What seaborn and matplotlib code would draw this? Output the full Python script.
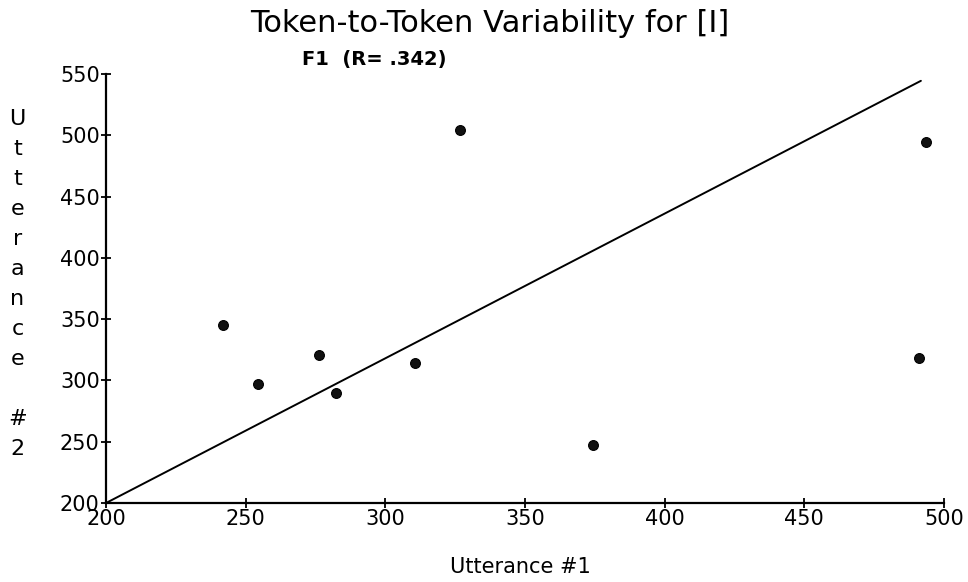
import matplotlib
matplotlib.use("Agg")
import matplotlib.pyplot as plt
import seaborn as sns
import pandas as pd

# values
utt1 = [241.8, 254.4, 276.3, 282.4, 310.8, 326.9, 374.3, 491.2, 493.5]
utt2 = [345.3, 296.9, 320.8, 290.0, 314.0, 504.5, 247.3, 318.6, 494.4]
line_x = [200, 491.8]
line_y = [200, 544.5]
x_ticks = [200, 250, 300, 350, 400, 450, 500]
y_ticks = [200, 250, 300, 350, 400, 450, 500, 550]

df = pd.DataFrame({'utt1': utt1, 'utt2': utt2})
line_df = pd.DataFrame({'x': line_x, 'y': line_y})

sns.set_style("ticks")
plt.rcParams['font.family'] = ['DejaVu Sans']

fig = plt.figure(figsize=(9.68, 5.82), dpi=100)
ax = fig.add_axes([0.1095, 0.1357, 0.8655, 0.7370])

sns.lineplot(x='x', y='y', data=line_df, color='black', linewidth=1.4, ax=ax)
sns.scatterplot(x='utt1', y='utt2', data=df, color='#111111', s=50,
                edgecolor='black', linewidth=0.8, ax=ax, zorder=3)

ax.set_xlim(200, 500)
ax.set_ylim(200, 550)
ax.set_xticks(x_ticks)
ax.set_yticks(y_ticks)
ax.tick_params(direction='inout', length=7, width=1.3, labelsize=15, pad=1, colors='black')
for side in ['top', 'right']:
    ax.spines[side].set_visible(False)
for side in ['left', 'bottom']:
    ax.spines[side].set_linewidth(1.6)
    ax.spines[side].set_color('black')
ax.set_xlabel('')
ax.set_ylabel('')

fig.text(0.506, 0.959, 'Token-to-Token Variability for [I]', ha='center', va='center',
         fontsize=22, color='black')
fig.text(0.312, 0.897, 'F1  (R= .342)', ha='left', va='center', fontsize=14,
         fontweight='bold', color='black')
fig.text(0.538, 0.025, 'Utterance #1', ha='center', va='center', fontsize=15, color='black')
fig.text(0.018, 0.512, '\n'.join('Utterance #2'), ha='center', va='center',
         fontsize=16, linespacing=1.63, color='black')

fig.savefig('out.png', dpi=100)
